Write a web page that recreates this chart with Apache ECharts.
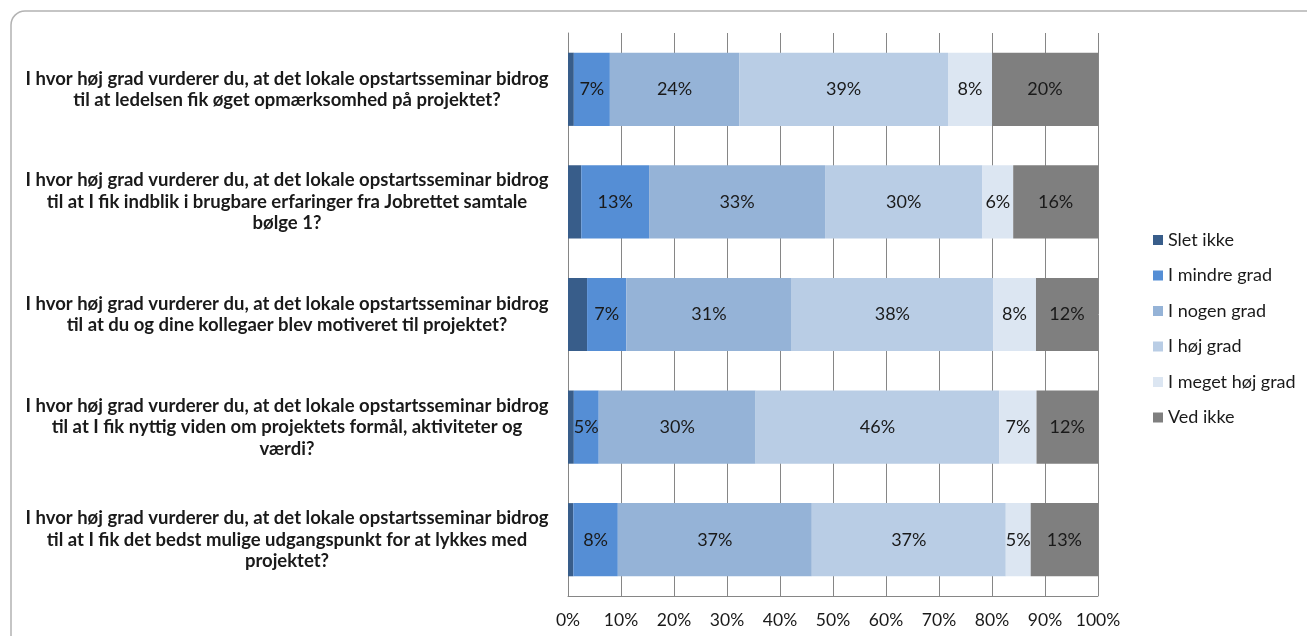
<!DOCTYPE html>
<html>
<head>
<meta charset="utf-8">
<script src="https://cdn.jsdelivr.net/npm/echarts@6/dist/echarts.min.js"></script>
<style>
  html, body { margin: 0; padding: 0; background: #ffffff; }
  #chart { width: 1307px; height: 636px; }
</style>
</head>
<body>
<div id="chart"></div>
<script>
// Survey questions (one stacked bar each, top to bottom)
const questions = [
  "I hvor høj grad vurderer du, at det lokale opstartsseminar bidrog\ntil at ledelsen fik øget opmærksomhed på projektet?",
  "I hvor høj grad vurderer du, at det lokale opstartsseminar bidrog\ntil at I fik indblik i brugbare erfaringer fra Jobrettet samtale\nbølge 1?",
  "I hvor høj grad vurderer du, at det lokale opstartsseminar bidrog\ntil at du og dine kollegaer blev motiveret til projektet?",
  "I hvor høj grad vurderer du, at det lokale opstartsseminar bidrog\ntil at I fik nyttig viden om projektets formål, aktiviteter og\nværdi?",
  "I hvor høj grad vurderer du, at det lokale opstartsseminar bidrog\ntil at I fik det bedst mulige udgangspunkt for at lykkes med\nprojektet?"
];

// Answer categories
const answers = ["Slet ikke", "I mindre grad", "I nogen grad", "I høj grad", "I meget høj grad", "Ved ikke"];

// Share of respondents (%) per answer, one value per question
const sletIkke     = [1.1, 2.5, 3.6, 1.1, 1.0];
const iMindreGrad  = [6.8, 12.8, 7.4, 4.7, 8.4];
const iNogenGrad   = [24.4, 33.2, 31.2, 29.6, 36.6];
const iHoejGrad    = [39.4, 29.7, 38.0, 46.0, 36.6];
const iMegetHoej   = [8.3, 5.8, 8.1, 7.0, 4.7];
const vedIkke      = [20.0, 16.0, 11.7, 11.6, 12.7];

// Percent tick labels along the value axis
const tickLabels = ["0%", "10%", "20%", "30%", "40%", "50%", "60%", "70%", "80%", "90%", "100%"];

const seriesValues = [sletIkke, iMindreGrad, iNogenGrad, iHoejGrad, iMegetHoej, vedIkke];
const colors = ["#385d8a", "#558ed5", "#95b3d7", "#b9cde5", "#dce6f2", "#7f7f7f"];
const showLabel = [false, true, true, true, true, true];

const FONT = "Lato, 'Open Sans', sans-serif";

const chart = echarts.init(document.getElementById("chart"), null, { renderer: "canvas" });

const option = {
  backgroundColor: "#ffffff",
  animation: false,
  textStyle: { fontFamily: FONT },
  graphic: [{
    type: "rect",
    shape: { x: 11, y: 11, width: 1310, height: 640, r: 14 },
    style: { fill: "none", stroke: "#b3b3b3", lineWidth: 1.5 },
    silent: true,
    z: -1
  }],
  grid: { left: 568, right: 209, top: 33, bottom: 40, containLabel: false },
  legend: {
    orient: "vertical",
    left: 1153,
    top: 231,
    padding: 0,
    itemWidth: 10,
    itemHeight: 10,
    itemGap: 17.5,
    icon: "rect",
    data: answers,
    textStyle: { fontFamily: FONT, fontSize: 18, color: "#1a1a1a", padding: [0, 0, 0, 0] }
  },
  xAxis: {
    type: "value",
    min: 0,
    max: 100,
    interval: 10,
    axisLine: { show: true, lineStyle: { color: "#868686", width: 1 } },
    axisTick: { show: false },
    splitLine: { show: true, lineStyle: { color: "#868686", width: 1 } },
    axisLabel: {
      margin: 15,
      fontFamily: FONT,
      fontSize: 17.5,
      color: "#1a1a1a",
      formatter: (v) => tickLabels[Math.round(v / 10)]
    }
  },
  yAxis: {
    type: "category",
    inverse: true,
    data: questions,
    axisLine: { show: true, lineStyle: { color: "#868686", width: 1 } },
    axisTick: { show: false },
    axisLabel: {
      align: "center",
      margin: 281,
      fontFamily: FONT,
      fontWeight: "bold",
      fontSize: 18.5,
      lineHeight: 21.5,
      color: "#1a1a1a"
    }
  },
  series: answers.map((name, i) => ({
    name: name,
    type: "bar",
    stack: "total",
    barCategoryGap: "35%",
    itemStyle: { color: colors[i] },
    label: {
      show: showLabel[i],
      position: "inside",
      fontFamily: FONT,
      fontSize: 18,
      color: "#1a1a1a",
      formatter: (p) => Math.round(p.value) + "%"
    },
    emphasis: { disabled: true },
    data: seriesValues[i]
  }))
};

chart.setOption(option);
</script>
</body>
</html>
